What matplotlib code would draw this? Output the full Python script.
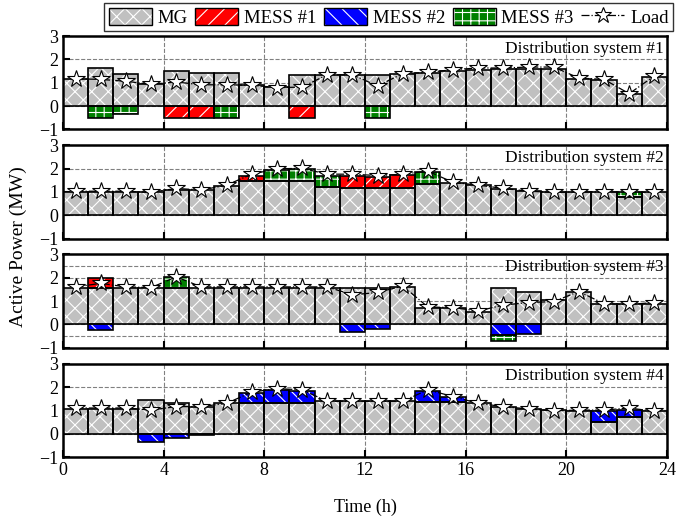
import numpy as np
import matplotlib
matplotlib.use('Agg')
import matplotlib.pyplot as plt
from matplotlib.patches import Patch
from matplotlib.lines import Line2D

plt.rcParams['font.family'] = ['Liberation Serif', 'DejaVu Serif']
plt.rcParams['hatch.color'] = 'white'
plt.rcParams['hatch.linewidth'] = 0.8

hours = np.arange(24)

# DS1
mg1 = [1.15, 1.63, 1.37, 0.95, 1.49, 1.41, 1.41, 0.90, 0.80, 1.31, 1.33, 1.34,
       1.34, 1.39, 1.41, 1.49, 1.53, 1.57, 1.60, 1.60, 1.17, 1.10, 0.53, 1.24]
mess1_1 = {4: -0.5, 5: -0.5, 9: -0.5}
mess2_1 = {}
mess3_1 = {1: -0.5, 2: -0.35, 6: -0.5, 12: -0.5}
load1 = [1.17, 1.14, 1.06, 0.93, 1.03, 0.91, 0.91, 0.89, 0.79, 0.81, 1.34, 1.34,
         0.86, 1.39, 1.44, 1.56, 1.63, 1.63, 1.67, 1.67, 1.20, 1.14, 0.53, 1.29]

# DS2
mg2 = [1.00, 1.00, 1.00, 0.98, 1.08, 1.08, 1.27, 1.47, 1.47, 1.47, 1.22, 1.15,
       1.15, 1.18, 1.32, 1.37, 1.29, 1.12, 1.03, 0.98, 0.98, 0.98, 0.79, 0.98]
mess1_2 = {7: 0.23, 11: 0.55, 12: 0.50, 13: 0.55}
mess2_2 = {}
mess3_2 = {8: 0.47, 9: 0.52, 10: 0.48, 14: 0.52, 22: 0.19}
load2 = [1.03, 1.03, 1.03, 0.98, 1.15, 1.08, 1.29, 1.76, 1.99, 2.01, 1.76, 1.76,
         1.70, 1.76, 1.89, 1.41, 1.29, 1.15, 1.03, 0.98, 1.00, 1.00, 1.00, 0.98]

# DS3
mg3 = [1.58, 1.58, 1.58, 1.58, 1.58, 1.58, 1.58, 1.58, 1.58, 1.58, 1.58, 1.58,
       1.58, 1.61, 0.69, 0.69, 0.55, 1.55, 1.41, 1.04, 1.37, 0.89, 0.86, 0.89]
mess1_3 = {1: 0.41}
mess2_3 = {1: -0.22, 11: -0.32, 12: -0.20, 17: -0.46, 18: -0.43}
mess3_3 = {4: 0.46, 17: -0.23}
load3 = [1.61, 1.76, 1.61, 1.58, 2.04, 1.61, 1.61, 1.61, 1.61, 1.61, 1.61, 1.27,
         1.37, 1.65, 0.75, 0.72, 0.58, 0.83, 0.94, 0.98, 1.41, 0.89, 0.86, 0.94]

# DS4
mg4 = [1.07, 1.07, 1.07, 1.43, 1.33, 1.16, 1.30, 1.30, 1.30, 1.30, 1.38, 1.38,
       1.38, 1.38, 1.35, 1.35, 1.30, 1.16, 1.06, 1.01, 0.99, 0.48, 0.70, 0.96]
mess1_4 = {}
mess2_4 = {3: -0.35, 4: -0.17, 5: -0.06, 7: 0.44, 8: 0.56, 9: 0.53, 14: 0.48,
           15: 0.22, 21: 0.51, 22: 0.31}
mess3_4 = {}
load4 = [1.10, 1.10, 1.10, 1.01, 1.16, 1.16, 1.30, 1.78, 1.93, 1.88, 1.39, 1.39,
         1.39, 1.39, 1.88, 1.59, 1.30, 1.16, 1.06, 0.98, 1.01, 1.01, 1.10, 0.96]

systems = [
    ('Distribution system #1', mg1, [mess1_1, mess2_1, mess3_1], load1),
    ('Distribution system #2', mg2, [mess1_2, mess2_2, mess3_2], load2),
    ('Distribution system #3', mg3, [mess1_3, mess2_3, mess3_3], load3),
    ('Distribution system #4', mg4, [mess1_4, mess2_4, mess3_4], load4),
]

mg_style = dict(color='#c0c0c0', hatch='xx')
mess_styles = [dict(color='#ff0000', hatch='//'),
               dict(color='#0000ff', hatch='\\\\'),
               dict(color='#008000', hatch='++')]
mess_names = ['MESS #1', 'MESS #2', 'MESS #3']


def hatched_bar(ax, x, h, bottom, style):
    # hatch drawn in white, outline drawn separately in black
    ax.bar(x, h, width=1, bottom=bottom, align='edge', color=style['color'],
           hatch=style['hatch'], edgecolor='white', linewidth=0, zorder=2)
    ax.bar(x, h, width=1, bottom=bottom, align='edge', fill=False,
           edgecolor='black', linewidth=1.2, zorder=3)


fig, axes = plt.subplots(4, 1, figsize=(6.89, 5.22), dpi=100, sharex=True)
fig.subplots_adjust(left=0.0914, right=0.968, top=0.931, bottom=0.1245, hspace=0.17)

for i, (ax, (title, mg, mess, load)) in enumerate(zip(axes, systems)):
    mg = np.array(mg)
    hatched_bar(ax, hours, mg, 0, mg_style)
    pos_bot = mg.copy()
    neg_bot = np.zeros(24)
    for k, m in enumerate(mess):
        for h, v in m.items():
            if v >= 0:
                hatched_bar(ax, h, v, pos_bot[h], mess_styles[k])
                pos_bot[h] += v
            else:
                hatched_bar(ax, h, v, neg_bot[h], mess_styles[k])
                neg_bot[h] += v
    ax.plot(hours + 0.5, load, color='black', ls='-.', lw=0.9, marker='*',
            markersize=13, markerfacecolor='white', markeredgecolor='black',
            markeredgewidth=0.8, zorder=4)

    ax.set_xlim(0, 24)
    ax.set_ylim(-1, 3)
    ax.set_xticks(range(0, 25, 4))
    ax.set_yticks([-1, 0, 1, 2, 3])
    if i == 2:
        # this panel also shows half-step grid lines
        for yy in [-0.5, 2.5]:
            ax.axhline(yy, color='gray', ls='--', lw=0.8, zorder=1)
    ax.set_axisbelow(True)
    ax.grid(True, color='gray', ls='--', lw=0.8)
    ax.tick_params(direction='in', length=5, width=1.5, labelsize=13)
    for sp in ax.spines.values():
        sp.set_linewidth(1.8)
    ax.text(0.995, 0.95, title, transform=ax.transAxes, ha='right', va='top',
            fontsize=12.5, zorder=5)

fig.text(0.026, 0.527, 'Active Power (MW)', rotation=90, ha='center', va='center',
         fontsize=14)
fig.text(0.53, 0.028, 'Time (h)', ha='center', va='center', fontsize=13)

handles = [(Patch(facecolor=mg_style['color'], hatch=mg_style['hatch'], edgecolor='white', lw=0),
            Patch(fill=False, edgecolor='black', lw=1))]
for st in mess_styles:
    handles.append((Patch(facecolor=st['color'], hatch=st['hatch'], edgecolor='white', lw=0),
                    Patch(fill=False, edgecolor='black', lw=1)))
handles.append(Line2D([], [], color='black', ls='-.', lw=0.9, marker='*', markersize=12,
                      markerfacecolor='white', markeredgecolor='black', markeredgewidth=0.8))
labels = ['MG'] + mess_names + ['Load']
fig.legend(handles, labels, loc='upper right', bbox_to_anchor=(0.977, 0.994), ncol=5,
           fontsize=13.5, frameon=True, fancybox=False, edgecolor='black',
           handlelength=2.3, handleheight=1.0, handletextpad=0.3, columnspacing=0.4,
           borderpad=0.25, borderaxespad=0.0)

fig.savefig('out.png', dpi=100)
